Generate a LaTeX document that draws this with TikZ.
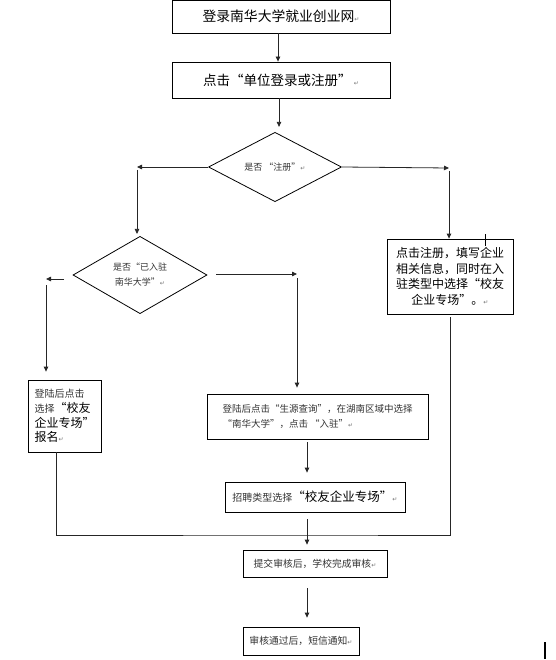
\documentclass[tikz,border=0pt]{standalone}
\usepackage{fontspec}
\usetikzlibrary{arrows.meta,shapes.geometric}
\newfontfamily\cjk{Noto Sans CJK SC}
\newfontfamily\symf{DejaVu Sans}
\newcommand\pmark{{\symf\fontsize{6}{6}\selectfont\color{black!55}↵}}
\newcommand\fsz[2]{\fontsize{#1}{#2}\selectfont}
\begin{document}
\begin{tikzpicture}[x=1pt,y=-1pt,
  box/.style={draw=black, line width=0.8pt, rectangle, inner sep=0pt, anchor=center, font=\cjk},
  dia/.style={draw=black, line width=0.8pt, diamond, inner sep=0pt, anchor=center, font=\cjk},
  arr/.style={-{Triangle[length=5pt,width=4.5pt]}, line width=0.8pt, draw=black!85},
  ln/.style={line width=0.8pt, draw=black!85}]
\useasboundingbox (0,0) rectangle (555,660);
\fill[white] (0,0) rectangle (555,660);

% nodes
\node[box, minimum width=218pt, minimum height=33pt, font=\cjk\fsz{13.8}{16}] (b1) at (281,16.5)
  {登录南华大学就业创业网\pmark};
\node[box, minimum width=218pt, minimum height=36pt, font=\cjk\fsz{13.5}{16}] (b2) at (281,80)
  {点击“单位登录或注册”\,\pmark};
\node[dia, minimum width=133pt, minimum height=55pt, font=\cjk\fsz{9}{11}, text=black!80] (d1) at (275,167)
  {是否 “注册”\pmark};
\node[dia, minimum width=134pt, minimum height=69pt, font=\cjk\fsz{9}{15}, text=black!80, align=center] (d2) at (140,275)
  {是否“已入驻\\南华大学”\pmark};
\node[box, minimum width=126pt, minimum height=75pt, align=center, font=\cjk\fsz{12}{15.6}] (b3) at (450,276.5)
  {点击注册，填写企业\\相关信息，同时在入\\驻类型中选择“校友\\企业专场”。\pmark};
\node[box, minimum width=73pt, minimum height=72pt, align=left, font=\cjk\fsz{12}{14.6}] (b4) at (64.5,416)
  {{\fsz{10}{14.6}\color{black!80}登陆后点击}\\{\fsz{10}{14.6}\color{black!80}选择}“校友\\企业专场”\\报名\pmark};
\node[box, minimum width=221pt, minimum height=45pt, align=left, font=\cjk\fsz{9.5}{15}, text=black!80] (b5) at (317.5,416.5)
  {登陆后点击“生源查询”，在湖南区域中选择\\“南华大学”，点击 “入驻”\pmark};
\node[box, minimum width=180pt, minimum height=30pt, font=\cjk\fsz{12.5}{14}] (b6) at (315,497)
  {{\fsz{10}{12}\color{black!80}招聘类型选择}“校友企业专场”\pmark};
\node[box, minimum width=144pt, minimum height=27pt, font=\cjk\fsz{9.8}{12}, text=black!80] (b7) at (315,563.5)
  {提交审核后，学校完成审核\pmark};
\node[box, minimum width=116pt, minimum height=28pt, font=\cjk\fsz{9.8}{12}, text=black!80] (b8) at (301,641)
  {审核通过后，短信通知\pmark};

% turning points
\coordinate (L1) at (137,167);
\coordinate (R1) at (449,168);
\coordinate (L2) at (46,279);
\coordinate (L2s) at (64,279);
\coordinate (R2s) at (216,274);
\coordinate (R2) at (297,274);
\coordinate (M) at (307,535);

% connectors
\draw[arr] ([xshift=-3pt]b1.south) -- ([xshift=-3pt]b2.north);
\draw[arr] ([xshift=-2pt]b2.south) -- ([xshift=4pt,yshift=5pt]d1.north);
\draw[arr] (d1.west) -- (L1);
\draw[arr] ([yshift=-3pt]L1) -- ([yshift=2pt]L1 |- d2.north);
\draw[arr] (d1.east) -- (R1);
\draw[arr] ([yshift=-3pt]R1) -- (R1 |- b3.north);
\draw[arr] (L2s) -- (L2);
\draw[arr] ([yshift=-6pt]L2) -- ([yshift=8pt]L2 |- b4.north);
\draw[arr] (R2s) -- (R2);
\draw[arr] ([yshift=-4pt]R2) -- ([yshift=6pt]R2 |- b5.north);
\draw[arr] ([yshift=-3pt]b5.south -| M) -- ([yshift=9pt]b6.north -| M);
\draw[arr] ([yshift=-7pt]b6.south -| M) -- ([yshift=5pt]b7.north -| M);
\draw[arr] ([yshift=-11pt]b7.south -| M) -- ([yshift=9pt]b8.north -| M);
\draw[ln] ([xshift=-8.5pt]b4.south) |- (M) -| ([yshift=-3pt]b3.south);

% stray marks
\draw[line width=0.9pt] (485,234) -- (485,246);
\draw[line width=2pt] (545,642) -- (545,659);
\end{tikzpicture}
\end{document}
